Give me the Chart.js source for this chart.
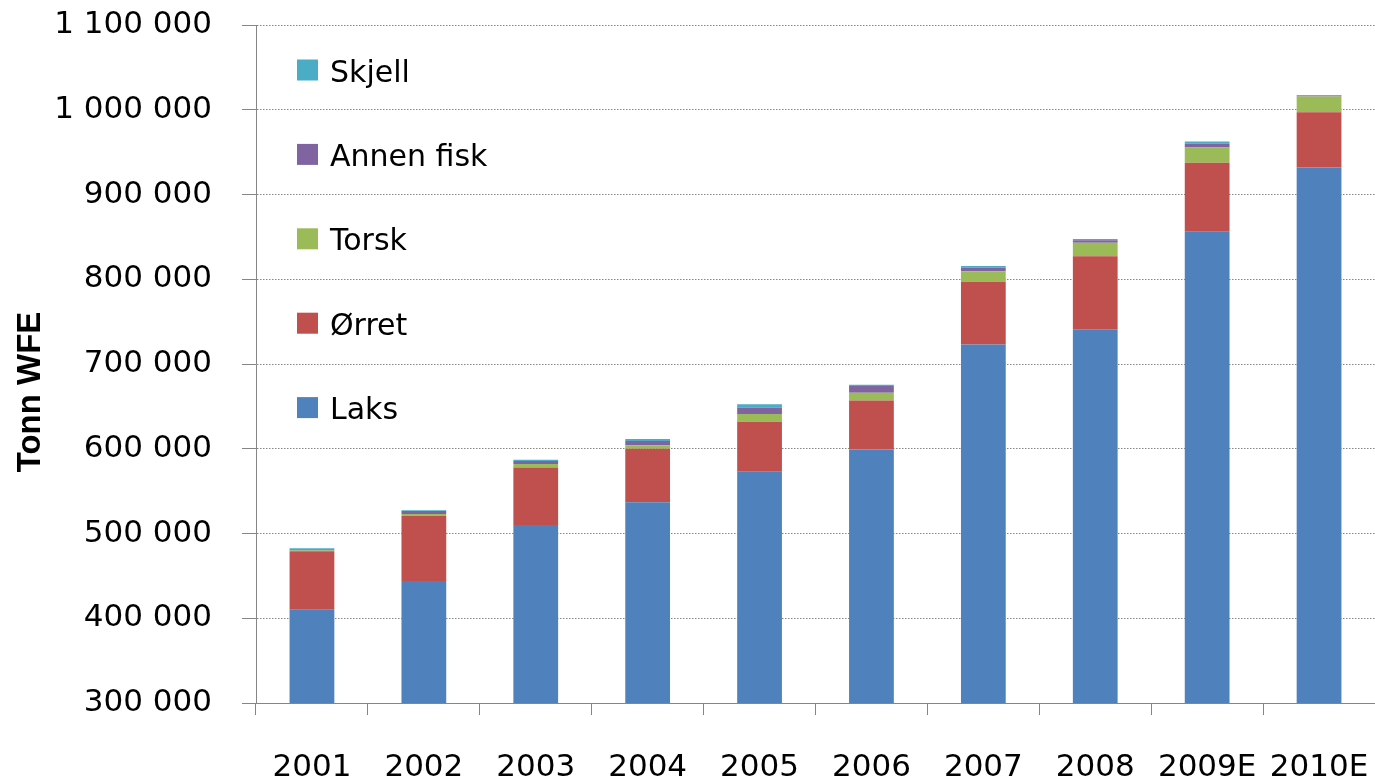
<!DOCTYPE html>
<html>
<head>
<meta charset="utf-8">
<script src="https://cdn.jsdelivr.net/npm/chart.js@4.4.1/dist/chart.umd.min.js"></script>
<style>
  html, body { margin: 0; padding: 0; background: #ffffff; }
  #wrap { width: 1375px; height: 783px; }
</style>
</head>
<body>
<div id="wrap"><canvas id="c" width="1375" height="783"></canvas></div>
<script>
const categories = ['2001', '2002', '2003', '2004', '2005', '2006', '2007', '2008', '2009E', '2010E'];
const laks   = [410000, 444000, 510000, 537000, 573000, 599000, 723000, 741000, 856000, 932000];
const orret  = [69000, 77000, 68000, 63000, 59000, 58000, 74000, 86000, 81500, 65000];
const torsk  = [1000, 2000, 4000, 4000, 9000, 9000, 12500, 16000, 18000, 18500];
const annen  = [1500, 3500, 3500, 5000, 7500, 8000, 4000, 3000, 4500, 1000];
const skjell = [1000, 1000, 1500, 2500, 4000, 1500, 2000, 1500, 2500, 1000];
const seriesNames = ['Laks', 'Ørret', 'Torsk', 'Annen fisk', 'Skjell'];
const yMin = 300000, yMax = 1100000, yStep = 100000;
const yTitle = 'Tonn WFE';

const colors = ['#4F81BD', '#C0504D', '#9BBB59', '#8064A2', '#4BACC6'];
const seriesData = [laks, orret, torsk, annen, skjell];
const axisGray = '#868686';
const tickFont = { family: '"DejaVu Sans"', size: 31 };

function fmt(v) {
  return String(v).replace(/\B(?=(\d{3})+(?!\d))/g, ' ');
}

const overlayPlugin = {
  id: 'overlay',
  afterDraw(chart) {
    const ctx = chart.ctx;
    const area = chart.chartArea;
    // legend (reversed order, inside plot area)
    ctx.save();
    ctx.font = '30px "DejaVu Sans"';
    ctx.textAlign = 'left';
    ctx.textBaseline = 'alphabetic';
    const n = chart.data.datasets.length;
    for (let i = 0; i < n; i++) {
      const ds = chart.data.datasets[n - 1 - i];
      const cy = area.top + 45 + i * 84.4;
      ctx.fillStyle = ds.backgroundColor;
      ctx.fillRect(297, cy - 10.5, 21, 21);
      ctx.fillStyle = '#000000';
      ctx.fillText(ds.label, 330, cy + 11.5);
    }
    ctx.restore();
    // y axis title
    ctx.save();
    ctx.translate(31, 392);
    ctx.rotate(-Math.PI / 2);
    ctx.font = 'bold 33px "Liberation Sans"';
    ctx.fillStyle = '#000000';
    ctx.textAlign = 'center';
    ctx.textBaseline = 'middle';
    ctx.fillText(yTitle, 0, 0);
    ctx.restore();
  }
};

new Chart(document.getElementById('c'), {
  type: 'bar',
  data: {
    labels: categories,
    datasets: seriesNames.map((name, i) => ({
      label: name,
      data: seriesData[i],
      backgroundColor: colors[i],
      borderWidth: 0,
      barPercentage: 0.4,
      categoryPercentage: 1.0
    }))
  },
  options: {
    responsive: false,
    animation: false,
    layout: { padding: { top: 25, left: 0, right: 0, bottom: 0 } },
    plugins: {
      legend: { display: false },
      tooltip: { enabled: false }
    },
    scales: {
      x: {
        stacked: true,
        grid: {
          offset: true,
          drawOnChartArea: false,
          drawTicks: true,
          tickLength: 12,
          tickColor: axisGray,
          color: axisGray
        },
        border: { display: true, color: axisGray, width: 1 },
        ticks: {
          font: tickFont,
          color: '#000000',
          padding: 34,
          maxRotation: 0,
          autoSkip: false
        },
        afterFit(scale) {
          scale.height = 80;
          scale.paddingLeft = 0;
          scale.paddingRight = 0;
        }
      },
      y: {
        stacked: true,
        min: yMin,
        max: yMax,
        grid: {
          color: axisGray,
          lineWidth: 1,
          drawTicks: true,
          tickLength: 14,
          tickColor: axisGray,
          tickBorderDash: []
        },
        border: { display: true, color: axisGray, width: 1, dash: [1.5, 1.5] },
        ticks: {
          stepSize: yStep,
          font: tickFont,
          color: '#000000',
          padding: 30,
          callback: (v) => fmt(v)
        },
        afterFit(scale) {
          scale.width = 256;
          scale.paddingTop = 0;
          scale.paddingBottom = 0;
        }
      }
    }
  },
  plugins: [overlayPlugin]
});
</script>
</body>
</html>
